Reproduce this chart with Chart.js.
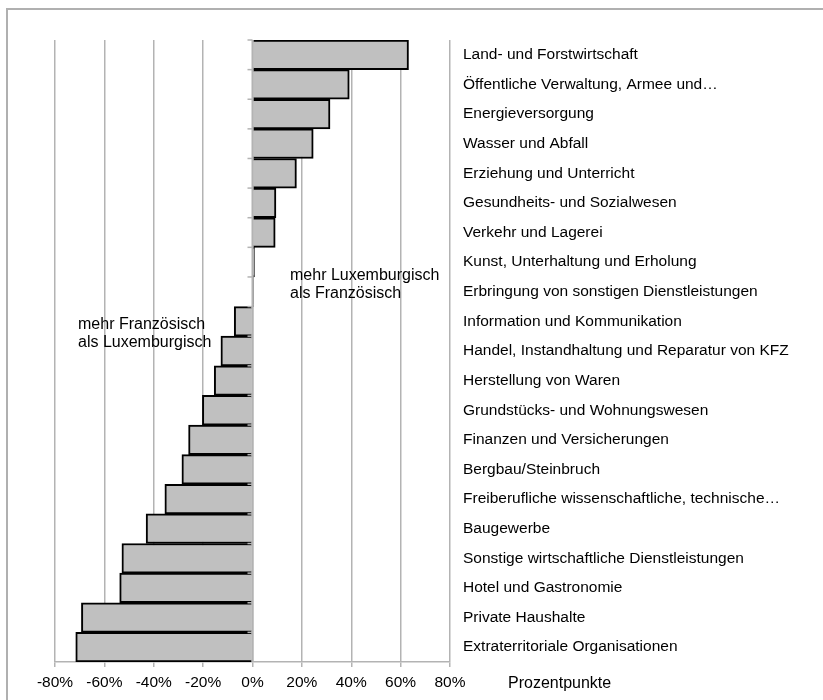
<!DOCTYPE html>
<html>
<head>
<meta charset="utf-8">
<script src="https://cdn.jsdelivr.net/npm/chart.js@4/dist/chart.umd.min.js"></script>
<style>
  html, body { margin: 0; padding: 0; background: #fff; }
  #wrap { width: 823px; height: 700px; }
</style>
</head>
<body>
<div id="wrap"><canvas id="myChart" width="823" height="700"></canvas></div>
<script>
var categories = [
  'Land- und Forstwirtschaft',
  'Öffentliche Verwaltung, Armee und…',
  'Energieversorgung',
  'Wasser und Abfall',
  'Erziehung und Unterricht',
  'Gesundheits- und Sozialwesen',
  'Verkehr und Lagerei',
  'Kunst, Unterhaltung und Erholung',
  'Erbringung von sonstigen Dienstleistungen',
  'Information und Kommunikation',
  'Handel, Instandhaltung und Reparatur von KFZ',
  'Herstellung von Waren',
  'Grundstücks- und Wohnungswesen',
  'Finanzen und Versicherungen',
  'Bergbau/Steinbruch',
  'Freiberufliche wissenschaftliche, technische…',
  'Baugewerbe',
  'Sonstige wirtschaftliche Dienstleistungen',
  'Hotel und Gastronomie',
  'Private Haushalte',
  'Extraterritoriale Organisationen'
];

// difference in percentage points (Luxembourgish minus French)
var differences = [63.2, 39.2, 31.4, 24.6, 17.8, 9.5, 9.2, 0.8, 0.4, -7.4, -12.8,
  -15.5, -20.3, -25.9, -28.6, -35.5, -43.1, -52.9, -53.8, -69.3, -71.6];

var xTicks = [-80, -60, -40, -20, 0, 20, 40, 60, 80];
var axisTitle = 'Prozentpunkte';
var noteRight = ['mehr Luxemburgisch', 'als Französisch'];
var noteLeft = ['mehr Französisch', 'als Luxemburgisch'];

var FONT = '"Liberation Sans", Arial, sans-serif';
var GRID = '#b3b3b3';

// frame, zero line with little ticks, notes and axis title
var extras = {
  id: 'extras',
  beforeDraw: function (chart) {
    var c = chart.ctx;
    c.save();
    c.strokeStyle = '#b0b0b0';
    c.lineWidth = 2;
    c.beginPath();
    c.moveTo(7, 710);
    c.lineTo(7, 9);
    c.lineTo(830, 9);
    c.stroke();
    c.restore();
  },
  afterDatasetsDraw: function (chart) {
    var c = chart.ctx;
    var x = chart.scales.x, y = chart.scales.y;
    var x0 = x.getPixelForValue(0);
    var top = chart.chartArea.top, bottom = chart.chartArea.bottom;
    var step = (bottom - top) / categories.length;
    c.save();
    c.strokeStyle = GRID;
    c.lineWidth = 2;
    c.beginPath();
    c.moveTo(x0, top);
    c.lineTo(x0, bottom);
    c.stroke();
    c.lineWidth = 1.5;
    for (var i = 0; i < categories.length; i++) {
      var yy = y.getPixelForValue(i) - step / 2;
      c.beginPath();
      c.moveTo(x0 - 5, yy);
      c.lineTo(x0, yy);
      c.stroke();
    }
    c.fillStyle = '#000';
    c.font = '16px ' + FONT;
    c.textBaseline = 'middle';
    c.textAlign = 'left';
    c.fillText(noteRight[0], 290, 276);
    c.fillText(noteRight[1], 290, 294);
    c.fillText(noteLeft[0], 78, 325);
    c.fillText(noteLeft[1], 78, 343);
    c.fillText(axisTitle, 508, 684);
    c.restore();
  }
};

var ctx = document.getElementById('myChart').getContext('2d');
var chart = new Chart(ctx, {
  type: 'bar',
  data: {
    labels: categories,
    datasets: [{
      data: differences,
      backgroundColor: '#c0c0c0',
      borderColor: '#000',
      borderWidth: 2,
      barPercentage: 1,
      categoryPercentage: 1
    }]
  },
  options: {
    indexAxis: 'y',
    responsive: false,
    animation: false,
    layout: { padding: { left: 55, top: 40, right: 0, bottom: 0 } },
    plugins: {
      legend: { display: false },
      tooltip: { enabled: false }
    },
    scales: {
      x: {
        min: -80,
        max: 80,
        afterBuildTicks: function (s) {
          s.ticks = xTicks.map(function (v) { return { value: v }; });
        },
        afterFit: function (s) { s.height = 38; },
        grid: { color: GRID, lineWidth: 1.5, tickLength: 5, drawTicks: true },
        border: { color: GRID, width: 1.5 },
        ticks: {
          color: '#000',
          font: { family: FONT, size: 15.5 },
          padding: 6,
          maxRotation: 0,
          callback: function (v) { return v + '%'; }
        }
      },
      y: {
        position: 'right',
        afterFit: function (s) { s.width = 373; },
        grid: { display: false },
        border: { display: false },
        ticks: {
          color: '#000',
          font: { family: FONT, size: 15.5 },
          padding: 5,
          autoSkip: false
        }
      }
    }
  },
  plugins: [extras]
});
</script>
</body>
</html>
